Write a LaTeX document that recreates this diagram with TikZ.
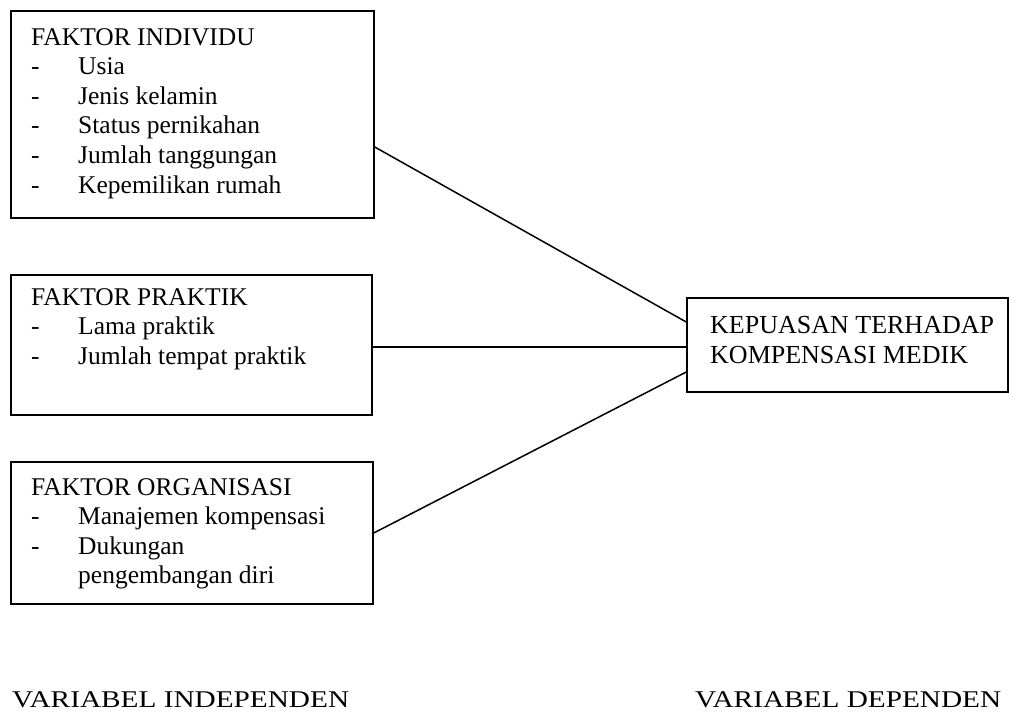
\documentclass[tikz,border=0pt]{standalone}
\usepackage{fontspec}
\setmainfont{Liberation Serif}
\usepackage{tikz}
\newcommand\butir[1]{\makebox[47pt][l]{-}#1}
\newcommand\lebar[1]{\scalebox{1.22}[1]{#1}}

\begin{document}
\begin{tikzpicture}[x=1pt, y=-1pt, kotak/.style = {draw, line width=1.5pt, inner sep=0pt}, isi/.style = {anchor=north west, inner sep=0pt, align=left, font=\fontsize{25.5}{29.6}\selectfont}, judul/.style = {anchor=base west, inner sep=0pt, font=\fontsize{24}{26}\selectfont}, garis/.style = {line width=1.5pt}]
	\useasboundingbox (0,0) rectangle (1032,716);
	\node[kotak, minimum width=363, minimum height=207] (ind) at (192.5,114.5) {};
	\node[isi] (tind) at (31,28) {FAKTOR INDIVIDU\\ \butir{Usia}\\ \butir{Jenis kelamin}\\ \butir{Status pernikahan}\\ \butir{Jumlah tanggungan}\\ \butir{Kepemilikan rumah}};
	\node[kotak, minimum width=361, minimum height=140] (prak) at (191.5,345) {};
	\node[isi] (tprak) at (31,288) {FAKTOR PRAKTIK\\ \butir{Lama praktik}\\ \butir{Jumlah tempat praktik}};
	\node[kotak, minimum width=362, minimum height=142] (org) at (192,533) {};
	\node[isi] (torg) at (31,478) {FAKTOR ORGANISASI\\ \butir{Manajemen kompensasi}\\ \butir{Dukungan}\\ \hspace*{47pt}pengembangan diri};
	\node[kotak, minimum width=321, minimum height=94] (dep) at (847.5,345) {};
	\node[isi, font=\fontsize{26}{30}\selectfont] (tdep) at (710,316) {KEPUASAN TERHADAP\\ KOMPENSASI MEDIK};
	\draw[garis] ([yshift=-32.5pt]ind.east) -- ([yshift=23pt]dep.west);
	\draw[garis] ([yshift=-2pt]prak.east) -- ([yshift=-2pt]dep.west);
	\draw[garis] (org.east) -- ([yshift=-27pt]dep.west);
	\node[judul] (vind) at (12,707) {\lebar{VARIABEL INDEPENDEN}};
	\node[judul] (vdep) at (695,707) {\lebar{VARIABEL DEPENDEN}};
\end{tikzpicture}
\end{document}
